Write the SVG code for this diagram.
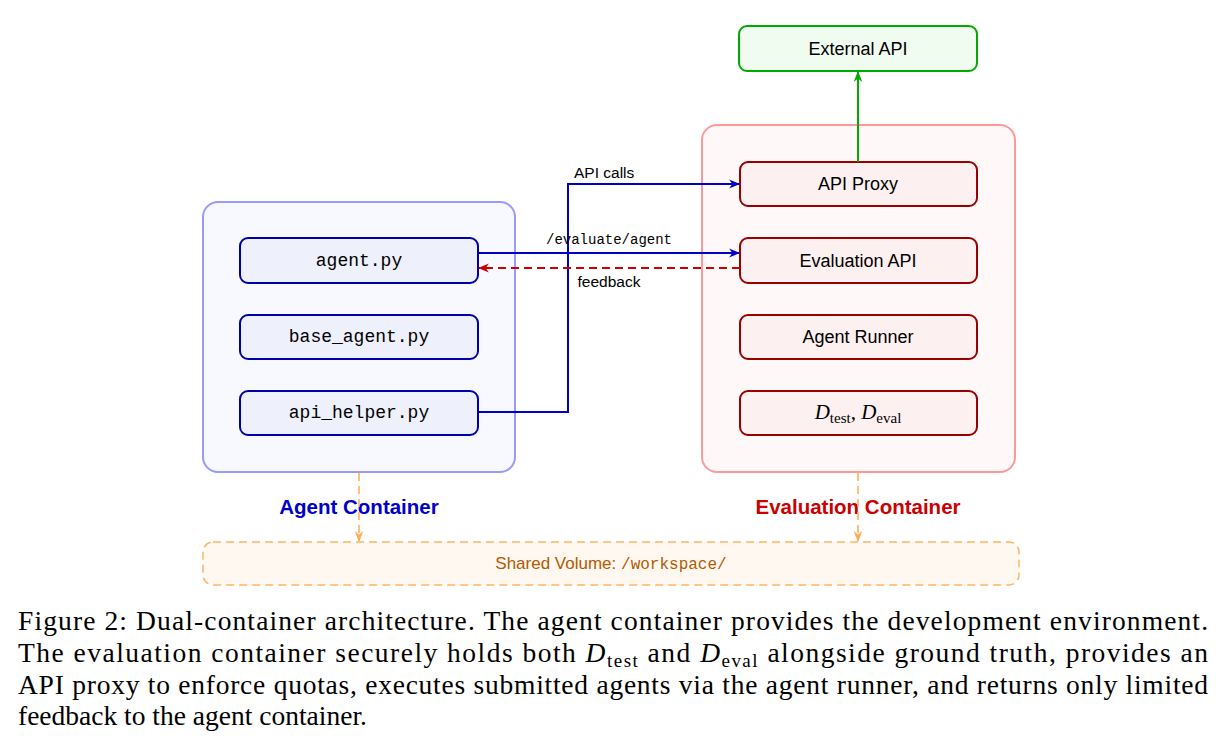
<svg xmlns="http://www.w3.org/2000/svg" width="1226" height="751" viewBox="0 0 1226 751">
<style>
.sans{font-family:"Liberation Sans",Arial,sans-serif}
.mono{font-family:"Liberation Mono","Courier New",monospace}
.serif{font-family:"Liberation Serif","Times New Roman",serif}
.an{fill:#eef0fc;stroke:#0000aa;stroke-width:2}
.en{fill:#fdf0f0;stroke:#990000;stroke-width:2}
.lbl{font-size:18px;fill:#000;text-anchor:middle}
.cap{font-size:27.5px;fill:#000}
</style>
<defs>
<marker id="ab" viewBox="0 0 10 10" refX="9" refY="5" markerWidth="11" markerHeight="11" markerUnits="userSpaceOnUse" orient="auto"><path d="M0,1 L10,5 L0,9 L3,5 Z" fill="#0000cc"/></marker>
<marker id="ag" viewBox="0 0 10 10" refX="9" refY="5" markerWidth="11" markerHeight="11" markerUnits="userSpaceOnUse" orient="auto"><path d="M0,1 L10,5 L0,9 L3,5 Z" fill="#00aa00"/></marker>
<marker id="ar" viewBox="0 0 10 10" refX="9" refY="5" markerWidth="11" markerHeight="11" markerUnits="userSpaceOnUse" orient="auto"><path d="M0,1 L10,5 L0,9 L3,5 Z" fill="#cc0000"/></marker>
<marker id="ao" viewBox="0 0 10 10" refX="9" refY="5" markerWidth="11" markerHeight="11" markerUnits="userSpaceOnUse" orient="auto"><path d="M0,1 L10,5 L0,9 L3,5 Z" fill="#ffaa55"/></marker>
</defs>
<rect width="1226" height="751" fill="#fff"/>

<g id="agent-container">
<rect x="203" y="202" width="312" height="270" rx="15" fill="#f8f8ff" stroke="#9999ff" stroke-width="2"/>
<text x="359" y="514" class="sans" font-size="20.5" font-weight="bold" fill="#0000cc" text-anchor="middle">Agent Container</text>
</g>
<g id="eval-container">
<rect x="702" y="125" width="313" height="347" rx="15" fill="#fff8f8" stroke="#ff9999" stroke-width="2"/>
<text x="858" y="514" class="sans" font-size="20.5" font-weight="bold" fill="#cc0000" text-anchor="middle">Evaluation Container</text>
</g>

<g id="external-api">
<rect x="739" y="26" width="238" height="45" rx="8" fill="#f0fcf0" stroke="#00aa00" stroke-width="2"/>
<text x="858" y="55" class="sans lbl">External API</text>
</g>
<g id="agent-py"><rect x="240" y="238" width="238" height="45" rx="8" class="an"/><text x="359" y="266" class="mono lbl" font-size="16">agent.py</text></g>
<g id="base-agent-py"><rect x="240" y="315" width="238" height="44" rx="8" class="an"/><text x="359" y="342" class="mono lbl" font-size="16">base_agent.py</text></g>
<g id="api-helper-py"><rect x="240" y="391" width="238" height="44" rx="8" class="an"/><text x="359" y="418" class="mono lbl" font-size="16">api_helper.py</text></g>

<g id="api-proxy"><rect x="740" y="162" width="237" height="44" rx="8" class="en"/><text x="858" y="190" class="sans lbl">API Proxy</text></g>
<g id="evaluation-api"><rect x="740" y="238" width="237" height="45" rx="8" class="en"/><text x="858" y="267" class="sans lbl">Evaluation API</text></g>
<g id="agent-runner"><rect x="740" y="315" width="237" height="44" rx="8" class="en"/><text x="858" y="343" class="sans lbl">Agent Runner</text></g>
<g id="datasets"><rect x="740" y="391" width="237" height="44" rx="8" class="en"/>
<text x="858" y="419" class="serif" font-size="21" text-anchor="middle"><tspan font-style="italic">D</tspan><tspan font-size="15" dy="4">test</tspan><tspan dy="-4">, </tspan><tspan font-style="italic">D</tspan><tspan font-size="15" dy="4">eval</tspan></text></g>

<g id="shared-volume">
<rect x="203" y="542" width="816" height="43" rx="10" fill="#fff8f0" stroke="#ffb366" stroke-width="1.5" stroke-dasharray="8,5"/>
<text x="611" y="569" class="sans" font-size="17" fill="#b35900" text-anchor="middle">Shared Volume: <tspan class="mono" font-size="16">/workspace/</tspan></text>
</g>

<g id="connectors" fill="none">
<path d="M858,162 V72" stroke="#00aa00" stroke-width="2" marker-end="url(#ag)"/>
<path d="M478,412 H568 V184 H739" stroke="#0000cc" stroke-width="2" marker-end="url(#ab)"/>
<path d="M478,253 H739" stroke="#0000cc" stroke-width="2" marker-end="url(#ab)"/>
<path d="M740,268 H479" stroke="#cc0000" stroke-width="2" stroke-dasharray="8,5" marker-end="url(#ar)"/>
<path d="M359,473 V541" stroke="#ffaa55" stroke-width="1.5" stroke-dasharray="8,5" marker-end="url(#ao)"/>
<path d="M858,473 V541" stroke="#ffaa55" stroke-width="1.5" stroke-dasharray="8,5" marker-end="url(#ao)"/>
<text x="574" y="178" class="sans" font-size="15.5" fill="#000" stroke="none">API calls</text>
<text x="609" y="244" class="mono" font-size="14" fill="#000" stroke="none" text-anchor="middle">/evaluate/agent</text>
<text x="609" y="287" class="sans" font-size="15.5" fill="#000" stroke="none" text-anchor="middle">feedback</text>
</g>

<g id="caption" class="serif cap">
<text x="18" y="630" textLength="1190" lengthAdjust="spacing">Figure 2: Dual-container architecture. The agent container provides the development environment.</text>
<text x="18" y="662" textLength="1190" lengthAdjust="spacing">The evaluation container securely holds both <tspan font-style="italic">D</tspan><tspan font-size="19" dy="5">test</tspan><tspan dy="-5"> and </tspan><tspan font-style="italic">D</tspan><tspan font-size="19" dy="5">eval</tspan><tspan dy="-5"> alongside ground truth, provides an</tspan></text>
<text x="18" y="694" textLength="1190" lengthAdjust="spacing">API proxy to enforce quotas, executes submitted agents via the agent runner, and returns only limited</text>
<text x="18" y="725">feedback to the agent container.</text>
</g>
</svg>
